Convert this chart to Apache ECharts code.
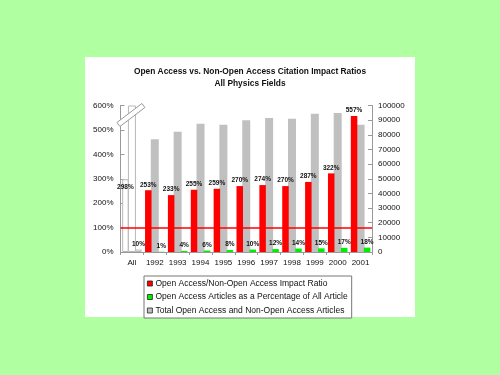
<!DOCTYPE html>
<html>
<head>
<meta charset="utf-8">
<script src="https://cdn.jsdelivr.net/npm/echarts@6/dist/echarts.min.js"></script>
<style>
html,body{margin:0;padding:0;background:#b0ffa0;}
#c{width:500px;height:375px;}
</style>
</head>
<body>
<div id="c"></div>
<script>
const categories = ['All','1992','1993','1994','1995','1996','1997','1998','1999','2000','2001'];
const impactRatio = [298,253,233,255,259,270,274,270,287,322,557];
const oaPercent = [10,1,4,6,8,10,12,14,15,17,18];
const totalArticles = [100000,77000,82000,87500,86800,90000,91400,90900,94300,94800,86800];
const seriesNames = [
  'Open Access/Non-Open Access Impact Ratio',
  'Open Access Articles as a Percentage of All Articles',
  'Total Open Access and Non-Open Access Articles'
];
const leftAxis = {min:0, max:600, interval:100};
const rightAxis = {min:0, max:100000, interval:10000};
const referenceRatio = 100;

const FONT = 'Liberation Sans, Arial, sans-serif';
const hollow = {color:'#ffffff', borderColor:'#b8b8b8', borderWidth:1};

function withHollowFirst(arr, extraLabel){
  return arr.map((v,i)=> i===0 ? Object.assign({value:v, itemStyle:hollow}, extraLabel?{label:extraLabel}:{}) : v);
}

const chart = echarts.init(document.getElementById('c'), null, {renderer:'canvas'});
const option = {
  backgroundColor:'#b0ffa0',
  animation:false,
  textStyle:{fontFamily:FONT},
  graphic:[{type:'rect', shape:{x:85,y:57,width:330,height:260}, style:{fill:'#ffffff'}, z:-10}],
  title:{
    text:'Open Access vs. Non-Open Access Citation Impact Ratios\nAll Physics Fields',
    left:'center', top:61,
    textStyle:{fontFamily:FONT, fontSize:8.4, fontWeight:'bold', color:'#111', lineHeight:11.5}
  },
  legend:{
    orient:'vertical', left:144, top:276,
    data:seriesNames,
    icon:'rect',
    itemWidth:5, itemHeight:5, itemGap:4.5,
    padding:[3,4,3,3],
    borderColor:'#777', borderWidth:1,
    backgroundColor:'#fff',
    itemStyle:{borderColor:'#222', borderWidth:0.8},
    textStyle:{fontFamily:FONT, fontSize:8.5, color:'#111', width:196, overflow:'truncate', ellipsis:'', padding:[0,0,0,-2]},
    selectedMode:false
  },
  grid:{left:120.5, right:128, top:105.5, bottom:123},
  xAxis:[
    {type:'category', data:categories,
     axisLine:{lineStyle:{color:'#999'}},
     axisTick:{show:true, length:3, lineStyle:{color:'#999'}},
     axisLabel:{fontFamily:FONT, fontSize:8, color:'#111', margin:7, interval:0}},
    {type:'category', data:categories, show:false}
  ],
  yAxis:[
    {type:'value', min:leftAxis.min, max:leftAxis.max, interval:leftAxis.interval,
     axisLine:{show:true, lineStyle:{color:'#999'}},
     axisTick:{show:true, inside:true, length:4, lineStyle:{color:'#999'}},
     splitLine:{show:false},
     axisLabel:{fontFamily:FONT, fontSize:8, color:'#111', margin:7, formatter:'{value}%'}},
    {type:'value', position:'right', min:rightAxis.min, max:rightAxis.max, interval:rightAxis.interval,
     axisLine:{show:true, lineStyle:{color:'#999'}},
     axisTick:{show:true, inside:true, length:4, lineStyle:{color:'#999'}},
     splitLine:{show:false},
     axisLabel:{fontFamily:FONT, fontSize:8, color:'#111', margin:6, formatter:(v)=>String(v)}}
  ],
  series:[
    {name:seriesNames[0], type:'bar', xAxisIndex:0, yAxisIndex:0, z:3,
     barWidth:6.5, barGap:'100%',
     itemStyle:{color:'#ff0000'},
     data:withHollowFirst(impactRatio, {offset:[0,13]}),
     label:{show:true, position:'top', distance:2, formatter:'{c}%', fontFamily:FONT, fontSize:6.5, fontWeight:'bold', color:'#111'},
     markLine:{silent:true, symbol:'none', label:{show:false},
       lineStyle:{color:'#ff0000', width:1.5, type:'solid'},
       data:[{yAxis:referenceRatio}]}
    },
    {name:seriesNames[1], type:'bar', xAxisIndex:0, yAxisIndex:0, z:3,
     barWidth:6.5, barGap:'100%',
     itemStyle:{color:'#00ee00'},
     data:withHollowFirst(oaPercent),
     label:{show:true, position:'top', distance:2, formatter:'{c}%', fontFamily:FONT, fontSize:6.5, fontWeight:'bold', color:'#111'}
    },
    {name:seriesNames[2], type:'bar', xAxisIndex:1, yAxisIndex:1, z:2,
     barWidth:8,
     itemStyle:{color:'#c0c0c0'},
     data:withHollowFirst(totalArticles)
    }
  ]
};
chart.setOption(option);

// axis-break mark on the clipped "All" bar, placed through the chart's own scales
const breakAnchor = chart.convertToPixel({xAxisIndex:0, yAxisIndex:0}, [categories[0], leftAxis.max]);
const bx = breakAnchor[0], by = breakAnchor[1];
chart.setOption({graphic:[
  {type:'rect', shape:{x:85,y:57,width:330,height:260}, style:{fill:'#ffffff'}, z:-10},
  {type:'polygon', z:50,
   shape:{points:[[bx-15,by+17],[bx+10,by-2],[bx+13,by+2],[bx-12,by+21]]},
   style:{fill:'#ffffff', stroke:'#999', lineWidth:1}}
]});
</script>
</body>
</html>
